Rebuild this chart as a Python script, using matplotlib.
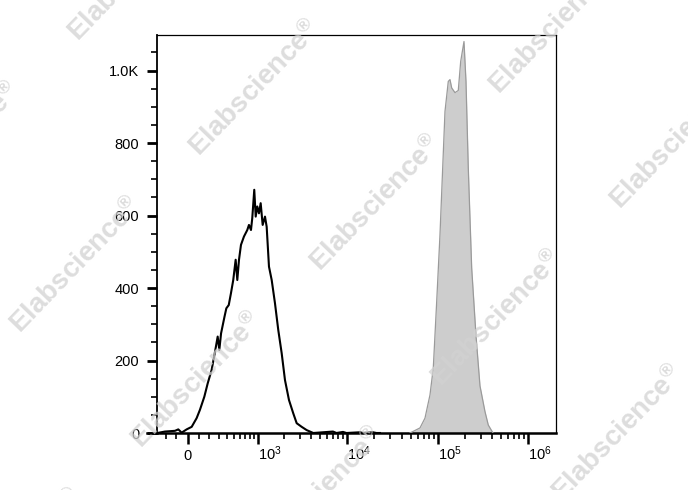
import numpy as np
import matplotlib
matplotlib.use("Agg")
import matplotlib.pyplot as plt
from matplotlib.lines import Line2D

plt.rcParams['font.family'] = ['Liberation Sans', 'DejaVu Sans']
plt.rcParams['mathtext.default'] = 'regular'

# ---- data ----
# unstained / control histogram (black line): intensity, count
ctrl_x = [-292, -209, -112, -82, -52, -8, 36, 80, 110, 151, 184, 224, 260, 290, 309,
          330, 373, 397, 430, 462, 496, 534, 561, 590, 625, 681, 748, 784, 829, 859,
          907, 943, 984, 1030, 1078, 1137, 1209, 1264, 1343, 1442, 1571, 1712, 1870,
          2036, 2257, 2522, 2751, 3127, 3553, 4205, 6950, 7600, 8970, 9800, 13830,
          15000, 19250, 21000, 23000]
ctrl_y = [0, 4, 6, 10, 1, 10, 17, 41, 64, 100, 137, 174, 224, 266, 229,
          275, 321, 344, 353, 386, 422, 478, 422, 478, 519, 542, 560, 574, 560, 593,
          671, 597, 625, 606, 634, 574, 597, 569, 459, 422, 358, 284, 220,
          146, 91, 54, 27, 17, 8, 0, 4, 0, 3, 0, 2,
          0, 2, 0, 0]

# stained histogram (grey filled)
stain_x = [49300, 63640, 72270, 82070, 89260, 97330, 105860, 113390, 120230, 130760,
           136530, 142570, 155060, 168640, 179260, 194980, 205140, 217500, 237150,
           264580, 292930, 332670, 361820, 407780]
stain_y = [0, 14, 41, 105, 179, 362, 547, 731, 887, 970,
           975, 952, 939, 945, 1025, 1080, 970, 731, 455,
           269, 130, 59, 22, 0]

x_major = [0, 1e3, 1e4, 1e5, 1e6]
x_major_labels = ['0', r'$\mathregular{10^{3}}$', r'$\mathregular{10^{4}}$',
                  r'$\mathregular{10^{5}}$', r'$\mathregular{10^{6}}$']
y_major = [0, 200, 400, 600, 800, 1000]
y_major_labels = ['0', '200', '400', '600', '800', '1.0K']

# ---- biexponential-like scale ----
C = 344.0
def fwd(x):
    return np.arcsinh(np.asarray(x, dtype=float) / C) / np.log(10)
def inv(y):
    return C * np.sinh(np.asarray(y, dtype=float) * np.log(10))

fig = plt.figure(figsize=(6.88, 4.90), dpi=100)
W, H = 688.0, 490.0
ax = fig.add_axes([157.3 / W, 1 - 433 / H, (556.3 - 157.3) / W, (433 - 35) / H])
ax.set_xscale('function', functions=(fwd, inv))

ax.fill_between(stain_x, stain_y, 0, color='#cdcdcd', lw=0, zorder=2)
ax.plot(stain_x, stain_y, color='#9a9a9a', lw=0.9, zorder=3)
ax.plot(ctrl_x, ctrl_y, color='black', lw=1.5, zorder=4)

ax.set_xlim(-292, 2.042e6)
ax.set_ylim(0, 1098)

minor_x = [-200, -100, 100] + [k * 100 for k in range(2, 10)] \
    + [k * 1e3 for k in range(2, 10)] + [k * 1e4 for k in range(2, 10)] \
    + [k * 1e5 for k in range(2, 10)]
ax.set_xticks(x_major)
ax.set_xticklabels(x_major_labels)
ax.set_xticks(minor_x, minor=True)
ax.set_yticks(y_major)
ax.set_yticklabels(y_major_labels)
ax.set_yticks(np.arange(50, 1100, 50), minor=True)

ax.tick_params(axis='x', which='major', direction='out', length=8, width=1.8,
               pad=11.4, labelsize=10.5)
ax.tick_params(axis='x', which='minor', direction='out', length=4.5, width=1.2)
ax.tick_params(axis='y', which='major', direction='out', length=7.5, width=2.0,
               pad=5.5, labelsize=10.5)
ax.tick_params(axis='y', which='minor', direction='out', length=4, width=1.2)

for i, lab in enumerate(ax.get_xticklabels()):
    lab.set_va('baseline')
    lab.set_ha('center' if i == 0 else 'left')

ax.spines['bottom'].set_linewidth(1.8)
ax.spines['left'].set_linewidth(1.3)
ax.spines['top'].set_linewidth(0.9)
ax.spines['right'].set_linewidth(0.9)

# bottom axis line extends a little to the left of the y axis
ax.add_line(Line2D([-10.3 / 399.0, 0], [0, 0], transform=ax.transAxes,
                   color='black', lw=1.8, clip_on=False, zorder=5))

# ---- watermark ----
ox, oy = 255.0, 88.0
ux, uy = 121.0, 115.0
vx, vy = 300.0, -62.0
for i in range(-3, 6):
    for j in range(-3, 4):
        cx = ox + i * ux + j * vx
        cy = oy + i * uy + j * vy
        if -150 < cx < W + 150 and -150 < cy < H + 150:
            fig.text(cx / W, 1 - cy / H, r'Elabscience$^{\mathregular{®}}$',
                     rotation=46, rotation_mode='anchor', ha='center', va='center',
                     fontsize=20, fontweight='bold', color='#d2d2d2', alpha=0.75,
                     zorder=10)

fig.savefig('out.png', dpi=100)
